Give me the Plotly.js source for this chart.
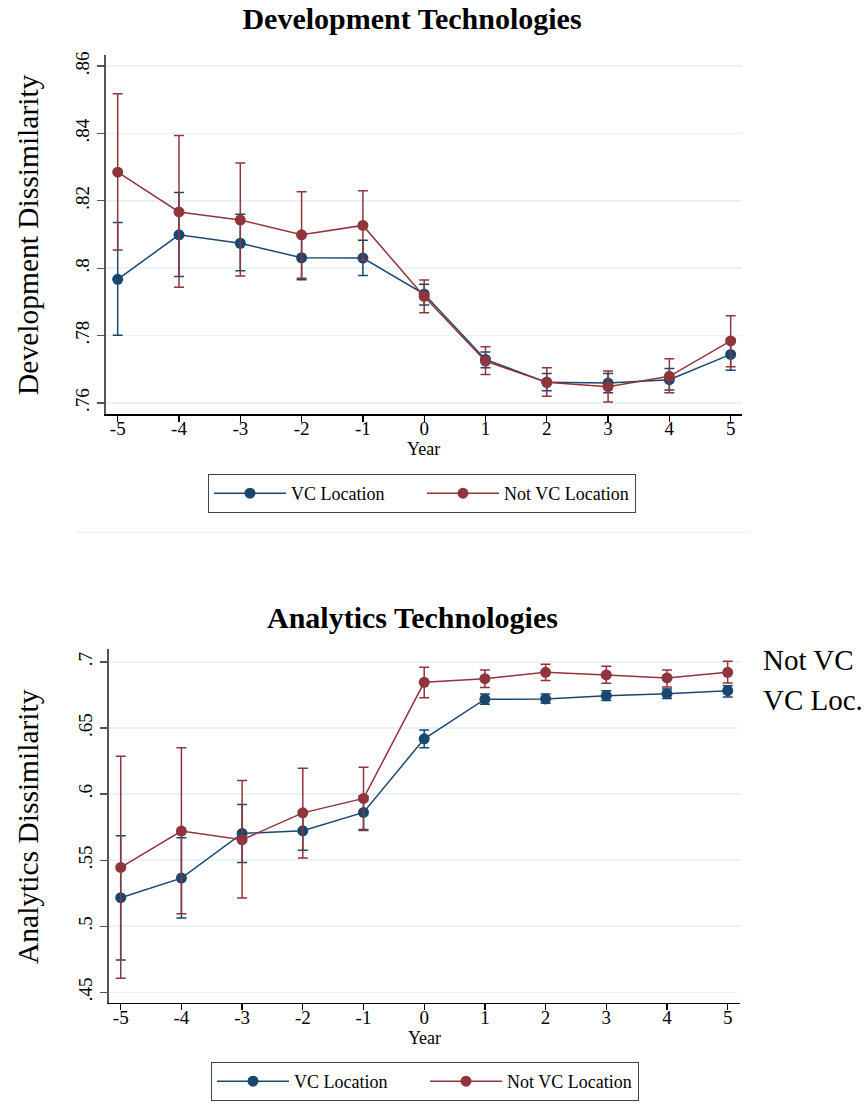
<!DOCTYPE html>
<html>
<head>
<meta charset="utf-8">
<script src="https://cdn.plot.ly/plotly-3.0.1.min.js"></script>
<style>html,body{margin:0;padding:0;background:#fff;}#chart{width:865px;height:1117px;}</style>
</head>
<body>
<div id="chart"></div>
<script>
// ---------- data ----------
const years = [-5, -4, -3, -2, -1, 0, 1, 2, 3, 4, 5];

// Development Technologies
const devVC     = [0.7967, 0.8099, 0.8074, 0.8031, 0.8030, 0.7923, 0.7729, 0.7661, 0.7659, 0.7669, 0.7744];
const devVCHi   = [0.8136, 0.8225, 0.8160, 0.8097, 0.8083, 0.7952, 0.7751, 0.7687, 0.7687, 0.7702, 0.7790];
const devVCLo   = [0.7801, 0.7975, 0.7992, 0.7966, 0.7978, 0.7891, 0.7704, 0.7636, 0.7630, 0.7638, 0.7697];
const devNot    = [0.8285, 0.8167, 0.8143, 0.8099, 0.8127, 0.7916, 0.7724, 0.7661, 0.7648, 0.7679, 0.7784];
const devNotHi  = [0.8518, 0.8394, 0.8312, 0.8227, 0.8230, 0.7965, 0.7767, 0.7704, 0.7695, 0.7731, 0.7859];
const devNotLo  = [0.8054, 0.7943, 0.7977, 0.7970, 0.8024, 0.7868, 0.7684, 0.7620, 0.7603, 0.7630, 0.7707];

// Analytics Technologies
const anaVC     = [0.5216, 0.5364, 0.5702, 0.5722, 0.5861, 0.6418, 0.6718, 0.6720, 0.6745, 0.6760, 0.6783];
const anaVCHi   = [0.5684, 0.5670, 0.5921, 0.5868, 0.5985, 0.6486, 0.6758, 0.6758, 0.6783, 0.6796, 0.6821];
const anaVCLo   = [0.4744, 0.5062, 0.5483, 0.5574, 0.5732, 0.6350, 0.6680, 0.6687, 0.6708, 0.6723, 0.6735];
const anaNot    = [0.5445, 0.5720, 0.5654, 0.5858, 0.5967, 0.6846, 0.6874, 0.6922, 0.6902, 0.6879, 0.6922];
const anaNotHi  = [0.6287, 0.6350, 0.6103, 0.6196, 0.6204, 0.6960, 0.6940, 0.6982, 0.6967, 0.6940, 0.7005];
const anaNotLo  = [0.4606, 0.5095, 0.5213, 0.5516, 0.5725, 0.6730, 0.6806, 0.6859, 0.6839, 0.6811, 0.6841];

const seriesNames = ['VC Location', 'Not VC Location'];
const devTickVals = [0.76, 0.78, 0.80, 0.82, 0.84, 0.86];
const devTickText = ['.76', '.78', '.8', '.82', '.84', '.86'];
const anaTickVals = [0.45, 0.50, 0.55, 0.60, 0.65, 0.70];
const anaTickText = ['.45', '.5', '.55', '.6', '.65', '.7'];
const xTickVals = years;
const xTickText = ['-5', '-4', '-3', '-2', '-1', '0', '1', '2', '3', '4', '5'];

// ---------- styling ----------
const W = 865, H = 1117;
const FONT = 'Liberation Serif, Times New Roman, serif';
const NAVY = '#1a476f';
const MAROON = '#90353b';
const GRID = '#eaf2f3';

function diff(a, b) { return a.map((v, i) => v - b[i]); }
function trace(y, hi, lo, name, color, xa, ya, legend) {
  return {
    x: years, y: y, name: name, type: 'scatter', mode: 'lines+markers',
    xaxis: xa, yaxis: ya, legend: legend,
    line: {color: color, width: 1.5},
    marker: {color: color, size: 11},
    error_y: {type: 'data', symmetric: false, array: diff(hi, y), arrayminus: diff(y, lo),
              color: color, thickness: 1.5, width: 5},
    cliponaxis: false
  };
}

const data = [
  trace(devVC, devVCHi, devVCLo, seriesNames[0], NAVY, 'x', 'y', 'legend'),
  trace(devNot, devNotHi, devNotLo, seriesNames[1], MAROON, 'x', 'y', 'legend'),
  trace(anaVC, anaVCHi, anaVCLo, seriesNames[0], NAVY, 'x2', 'y2', 'legend2'),
  trace(anaNot, anaNotHi, anaNotLo, seriesNames[1], MAROON, 'x2', 'y2', 'legend2')
];

function px(v) { return v / W; }
function py(v) { return 1 - v / H; }

const xCommon = {
  tickmode: 'array', tickvals: xTickVals, ticktext: xTickText,
  showgrid: false, zeroline: false, showline: true, linecolor: '#000', linewidth: 1.5,
  ticks: 'outside', ticklen: 6, tickcolor: '#000', tickwidth: 1.3,
  ticklabelstandoff: -9,
  tickfont: {family: FONT, size: 19, color: '#000'},
  fixedrange: true
};
const yCommon = {
  showgrid: true, gridcolor: GRID, gridwidth: 1.5, zeroline: false,
  showline: true, linecolor: '#555', linewidth: 2,
  ticks: 'outside', ticklen: 7, tickcolor: '#555', tickwidth: 1.3,
  tickangle: -90,
  tickfont: {family: FONT, size: 19, color: '#000'},
  fixedrange: true
};

const legendCommon = {
  orientation: 'h', xanchor: 'left', yanchor: 'top',
  bordercolor: '#444', borderwidth: 1, bgcolor: '#fff',
  font: {family: FONT, size: 18, color: '#000'},
  itemwidth: 72, entrywidth: 126, entrywidthmode: 'pixels',
  itemclick: false, itemdoubleclick: false
};

const layout = {
  width: W, height: H,
  margin: {l: 0, r: 0, t: 0, b: 0},
  paper_bgcolor: '#fff', plot_bgcolor: '#fff',
  showlegend: true,
  title: {text: '<b>Development Technologies</b>', x: px(412), xanchor: 'center',
          y: py(18), yanchor: 'middle', yref: 'paper',
          font: {family: FONT, size: 30, color: '#000'}},
  xaxis: Object.assign({}, xCommon, {domain: [px(105.7), px(741.7)], range: [-5.196, 5.18], anchor: 'y',
          title: {text: 'Year', font: {family: FONT, size: 18, color: '#000'}, standoff: 2}}),
  yaxis: Object.assign({}, yCommon, {domain: [py(414), py(55)], range: [0.7567, 0.8633], anchor: 'x',
          tickmode: 'array', tickvals: devTickVals, ticktext: devTickText}),
  xaxis2: Object.assign({}, xCommon, {domain: [px(109), px(740)], range: [-5.193, 5.203], anchor: 'y2',
          title: {text: 'Year', font: {family: FONT, size: 18, color: '#000'}, standoff: 2}}),
  yaxis2: Object.assign({}, yCommon, {domain: [py(1002.7), py(649.3)], range: [0.4421, 0.7096], anchor: 'x2',
          tickmode: 'array', tickvals: anaTickVals, ticktext: anaTickText}),
  legend: Object.assign({}, legendCommon, {x: px(208), y: py(474)}),
  legend2: Object.assign({}, legendCommon, {x: px(211), y: py(1062)}),
  annotations: [
    {text: '<b>Analytics Technologies</b>', xref: 'paper', yref: 'paper', x: px(412), y: py(617),
     xanchor: 'center', yanchor: 'middle', showarrow: false, font: {family: FONT, size: 30, color: '#000'}},
    {text: 'Development Dissimilarity', xref: 'paper', yref: 'paper', x: px(28), y: py(235),
     xanchor: 'center', yanchor: 'middle', textangle: -90, showarrow: false,
     font: {family: FONT, size: 29.5, color: '#000'}},
    {text: 'Analytics Dissimilarity', xref: 'paper', yref: 'paper', x: px(28), y: py(827),
     xanchor: 'center', yanchor: 'middle', textangle: -90, showarrow: false,
     font: {family: FONT, size: 29.5, color: '#000'}},
    {text: 'Not VC', xref: 'paper', yref: 'paper', x: px(761), y: py(660),
     xanchor: 'left', yanchor: 'middle', showarrow: false, font: {family: FONT, size: 29, color: '#000'}},
    {text: 'VC Loc.', xref: 'paper', yref: 'paper', x: px(761), y: py(700),
     xanchor: 'left', yanchor: 'middle', showarrow: false, font: {family: FONT, size: 29, color: '#000'}}
  ],
  shapes: [
    {type: 'line', xref: 'paper', yref: 'paper', x0: px(76), x1: px(750), y0: py(532.5), y1: py(532.5),
     line: {color: '#eef3f4', width: 1.5}}
  ]
};

Plotly.newPlot('chart', data, layout, {displayModeBar: false, staticPlot: true});
</script>
</body>
</html>
